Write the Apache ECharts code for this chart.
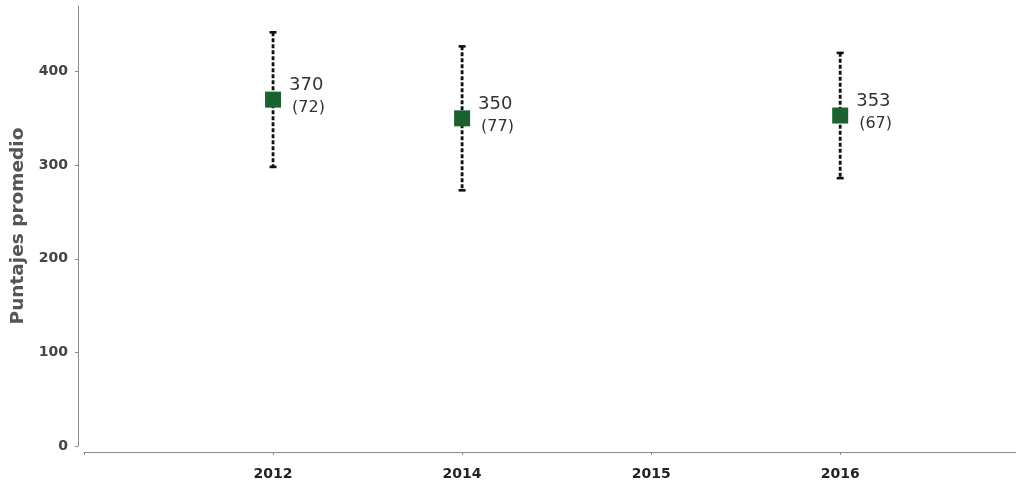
<!DOCTYPE html>
<html>
<head>
<meta charset="utf-8">
<script src="https://cdn.jsdelivr.net/npm/echarts@6/dist/echarts.min.js"></script>
<style>
html,body{margin:0;padding:0;background:#fff;}
#chart{width:1016px;height:485px;}
</style>
</head>
<body>
<div id="chart"></div>
<script>
const categories = ['2012', '2014', '2015', '2016'];
const means = [370, 350, null, 353];
const errors = [72, 77, null, 67];
const yTicks = [0, 100, 200, 300, 400];

// categories placed at positions 1..n on the x scale; position 0 is the blank start
const xTickPos = [0].concat(categories.map(function (c, i) { return i + 1; }));
const xLabelPos = categories.map(function (c, i) { return i + 1; });
const pts = [];
const bars = [];
categories.forEach(function (c, i) {
  if (means[i] != null) {
    pts.push({ value: [i + 1, means[i]], err: errors[i] });
    bars.push([i + 1, means[i] - errors[i], means[i] + errors[i]]);
  }
});

const FONT = 'DejaVu Sans';
const chart = echarts.init(document.getElementById('chart'), null, { renderer: 'canvas' });
chart.setOption({
  animation: false,
  grid: { left: 84, right: 0, top: 6, bottom: 39 },
  xAxis: {
    type: 'value',
    min: 0,
    max: 4.93,
    offset: 6,
    axisLine: { show: true, onZero: false, lineStyle: { color: '#8a8a8a', width: 1 } },
    axisTick: { show: true, length: 3, lineStyle: { color: '#8a8a8a' }, customValues: xTickPos },
    axisLabel: {
      color: '#222', fontWeight: 'bold', fontSize: 14, margin: 15, fontFamily: FONT,
      customValues: xLabelPos,
      formatter: function (v) { return categories[Math.round(v) - 1] || ''; }
    },
    splitLine: { show: false }
  },
  yAxis: {
    type: 'value',
    min: 0,
    max: 470,
    interval: 100,
    offset: 6,
    name: 'Puntajes promedio',
    nameLocation: 'middle',
    nameGap: 45,
    nameTextStyle: { color: '#555', fontWeight: 'bold', fontSize: 18.5, fontFamily: FONT },
    axisLine: { show: true, onZero: false, lineStyle: { color: '#8a8a8a', width: 1 } },
    axisTick: { show: true, length: 3, lineStyle: { color: '#8a8a8a' }, customValues: yTicks },
    axisLabel: { color: '#444', fontWeight: 'bold', fontSize: 14, margin: 10, fontFamily: FONT, customValues: yTicks },
    splitLine: { show: false }
  },
  series: [
    {
      type: 'custom',
      data: bars,
      encode: { x: 0, y: [1, 2] },
      z: 1,
      renderItem: function (params, api) {
        const x = api.value(0);
        const lo = api.coord([x, api.value(1)]);
        const hi = api.coord([x, api.value(2)]);
        const cx = lo[0];
        return {
          type: 'group',
          children: [
            { type: 'line', shape: { x1: cx, y1: hi[1], x2: cx, y2: lo[1] },
              style: { stroke: '#111', lineWidth: 2.8, lineDash: [4, 2] } },
            { type: 'rect', shape: { x: cx - 3.5, y: hi[1] - 1.2, width: 7, height: 2.6 },
              style: { fill: '#111' } },
            { type: 'rect', shape: { x: cx - 3.5, y: lo[1] - 1.4, width: 7, height: 2.6 },
              style: { fill: '#111' } }
          ]
        };
      }
    },
    {
      type: 'scatter',
      data: pts,
      symbol: 'rect',
      symbolSize: 16,
      z: 3,
      itemStyle: { color: '#1d6131', opacity: 1 },
      label: {
        show: true,
        position: 'right',
        distance: 8,
        offset: [0, -3],
        align: 'left',
        fontFamily: FONT,
        fontSize: 18,
        color: '#333',
        formatter: function (p) { return '{a|' + p.value[1] + '}\n{b|(' + p.data.err + ')}'; },
        rich: {
          a: { fontSize: 18, color: '#333', fontFamily: FONT, lineHeight: 23 },
          b: { fontSize: 16, color: '#333', fontFamily: FONT, lineHeight: 23, padding: [0, 0, 0, 3] }
        }
      }
    }
  ]
});
</script>
</body>
</html>
